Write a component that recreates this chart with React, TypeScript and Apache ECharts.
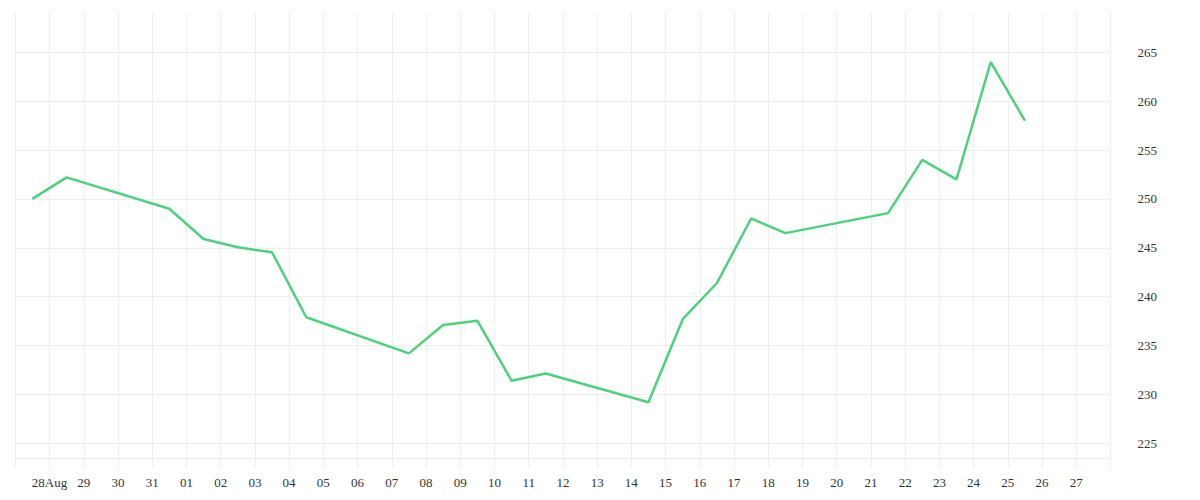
import { useEffect, useRef } from 'react';
import * as echarts from 'echarts';

// ─── Data ─────────────────────────────────────────────────────────────────────

const DATES = [
  '2020-08-27 12:00', '2020-08-28 12:00', '2020-08-31 12:00', '2020-09-01 12:00',
  '2020-09-02 12:00', '2020-09-03 12:00', '2020-09-04 12:00', '2020-09-07 12:00',
  '2020-09-08 12:00', '2020-09-09 12:00', '2020-09-10 12:00', '2020-09-11 12:00',
  '2020-09-14 12:00', '2020-09-15 12:00', '2020-09-16 12:00', '2020-09-17 12:00',
  '2020-09-18 12:00', '2020-09-21 12:00', '2020-09-22 12:00', '2020-09-23 12:00',
  '2020-09-24 12:00', '2020-09-25 12:00',
];

const PRICES = [
  250.0, 252.2, 249.0, 245.9,
  245.05, 244.55, 237.9, 234.2,
  237.1, 237.55, 231.4, 232.15,
  229.2, 237.7, 241.4, 248.0,
  246.5, 248.55, 254.0, 252.0,
  264.0, 258.0,
];

const X_TICKS = [
  '2020-08-27', '2020-08-28', '2020-08-29', '2020-08-30', '2020-08-31',
  '2020-09-01', '2020-09-02', '2020-09-03', '2020-09-04', '2020-09-05',
  '2020-09-06', '2020-09-07', '2020-09-08', '2020-09-09', '2020-09-10',
  '2020-09-11', '2020-09-12', '2020-09-13', '2020-09-14', '2020-09-15',
  '2020-09-16', '2020-09-17', '2020-09-18', '2020-09-19', '2020-09-20',
  '2020-09-21', '2020-09-22', '2020-09-23', '2020-09-24', '2020-09-25',
  '2020-09-26', '2020-09-27', '2020-09-28',
];

const X_LABELS = [
  '', '28Aug', '29', '30', '31',
  '01', '02', '03', '04', '05',
  '06', '07', '08', '09', '10',
  '11', '12', '13', '14', '15',
  '16', '17', '18', '19', '20',
  '21', '22', '23', '24', '25',
  '26', '27', '',
];

const Y_TICKS = [225, 230, 235, 240, 245, 250, 255, 260, 265];

// ─── Style ────────────────────────────────────────────────────────────────────

const LINE_COLOR = '#4cd17e';
const GRID_COLOR = '#eeeeee';
const TEXT_COLOR = '#333333';
const FONT = 'serif';
const DAY = 24 * 3600 * 1000;

const toTime = (s: string) => echarts.time.parse(s).getTime();

function buildOption(): echarts.EChartsOption {
  const tickTimes = X_TICKS.map(toTime);

  return {
    animation: false,
    backgroundColor: '#ffffff',
    grid: { left: 15.3, right: 89.5, top: 12, bottom: 41.7, containLabel: false },
    xAxis: {
      type: 'time',
      min: tickTimes[0],
      max: tickTimes[tickTimes.length - 1],
      minInterval: DAY,
      maxInterval: DAY,
      axisLine: { show: true, lineStyle: { color: GRID_COLOR, width: 1 } },
      axisTick: { show: true, length: 10, lineStyle: { color: GRID_COLOR, width: 1 } },
      axisLabel: {
        color: TEXT_COLOR,
        fontFamily: FONT,
        fontSize: 13,
        fontWeight: 'normal',
        margin: 18,
        hideOverlap: false,
        showMinLabel: false,
        showMaxLabel: false,
        formatter: (v: number) => {
          const i = tickTimes.findIndex((t) => Math.abs(t - v) < DAY / 2);
          return i >= 0 ? X_LABELS[i] : '';
        },
      },
      splitLine: { show: true, lineStyle: { color: GRID_COLOR, width: 1 } },
    },
    yAxis: {
      type: 'value',
      position: 'right',
      min: 223.47,
      max: 269.12,
      axisLine: { show: false },
      axisTick: { show: false, customValues: Y_TICKS } as any,
      axisLabel: {
        color: TEXT_COLOR,
        fontFamily: FONT,
        fontSize: 13,
        margin: 27,
        customValues: Y_TICKS,
      } as any,
      splitLine: { show: true, lineStyle: { color: GRID_COLOR, width: 1 } },
    },
    series: [
      {
        type: 'line',
        data: DATES.map((d, i) => [toTime(d), PRICES[i]]),
        showSymbol: false,
        symbol: 'none',
        lineStyle: { color: LINE_COLOR, width: 2.5 },
        itemStyle: { color: LINE_COLOR },
        silent: true,
      },
    ],
  };
}

// ─── Component ────────────────────────────────────────────────────────────────

export default function App() {
  const containerRef = useRef<HTMLDivElement>(null);

  useEffect(() => {
    document.body.style.margin = '0';
    if (!containerRef.current) return;
    const chart = echarts.init(containerRef.current, null, { renderer: 'svg' });
    chart.setOption(buildOption());
    return () => chart.dispose();
  }, []);

  return <div ref={containerRef} style={{ width: 1200, height: 500 }} />;
}
